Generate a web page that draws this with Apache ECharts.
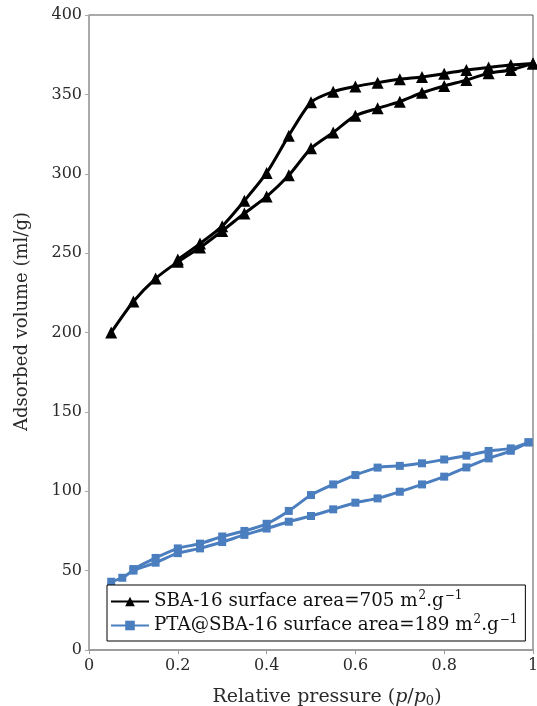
<!DOCTYPE html>
<html><head><meta charset="utf-8">
<script src="https://cdn.jsdelivr.net/npm/echarts@6/dist/echarts.min.js"></script>
<style>html,body{margin:0;padding:0;background:#fff}#c{width:537px;height:706px}</style>
</head><body><div id="c"></div>
<script>
const sbaAdsX = [0.05,0.1,0.15,0.2,0.25,0.3,0.35,0.4,0.45,0.5,0.55,0.6,0.65,0.7,0.75,0.8,0.85,0.9,0.95,1.0];
const sbaAdsY = [200,219.5,234,244.5,253.5,264,275,285.6,299,316,326,336.6,341.2,345.4,351,355.3,359,363.3,365.4,369.5];
const sbaDesX = [1.0,0.95,0.9,0.85,0.8,0.75,0.7,0.65,0.6,0.55,0.5,0.45,0.4,0.35,0.3,0.25,0.2];
const sbaDesY = [369.5,368.5,367,365.4,363,361,359.5,357.4,355,351.7,345,324,300.5,283,267,256,246];
const ptaAdsX = [0.05,0.075,0.1,0.15,0.2,0.25,0.3,0.35,0.4,0.45,0.5,0.55,0.6,0.65,0.7,0.75,0.8,0.85,0.9,0.95,0.99];
const ptaAdsY = [43,45.5,50,55,61,64,68,72.5,76.5,80.8,84.4,88.6,92.8,95.5,99.7,104.3,109.2,115,120.7,125.5,130.8];
const ptaDesX = [0.99,0.95,0.9,0.85,0.8,0.75,0.7,0.65,0.6,0.55,0.5,0.45,0.4,0.35,0.3,0.25,0.2,0.15,0.1];
const ptaDesY = [130.8,127,125.4,122.4,120,117.6,116,114.9,110.2,104.3,97.6,87.6,79.5,75,71.5,67,64,58,51];
const xTicks = [0,0.2,0.4,0.6,0.8,1];
const yTicks = [0,50,100,150,200,250,300,350,400];
const nameSBA = 'SBA-16 surface area=705 m{sup|2}.g{sup|−1}';
const namePTA = 'PTA@SBA-16 surface area=189 m{sup|2}.g{sup|−1}';

const zip = (xs, ys) => xs.map((x, i) => [x, ys[i]]);
const FONT = 'DejaVu Serif';
const TXT = '#2a2a2a';
const black = '#000000', blue = '#4a7ebf';

function mk(name, data, color, symbol, size) {
  return {
    name, type: 'line', data, smooth: 0.25, symbol, symbolSize: size,
    lineStyle: {color, width: 3}, itemStyle: {color}, animation: false
  };
}

const chart = echarts.init(document.getElementById('c'), null, {renderer: 'canvas'});
chart.setOption({
  animation: false,
  backgroundColor: '#fff',
  grid: {left: 89, right: 4, top: 15, bottom: 56, show: true, borderColor: '#555', borderWidth: 1,
         containLabel: false, outerBoundsMode: 'none'},
  xAxis: {
    type: 'value', min: 0, max: 1, interval: 0.2,
    axisLine: {show: true, lineStyle: {color: '#999', width: 1.5}},
    axisTick: {show: true, length: 4, lineStyle: {color: '#999'}},
    splitLine: {show: false},
    axisLabel: {color: TXT, fontFamily: FONT, fontSize: 16, margin: 8,
      formatter: v => {
        const r = +(+v).toFixed(1);
        return xTicks.includes(r) ? String(r) : '';
      }},
    name: 'Relative pressure ({i|p}/{i|p}{sub|0})',
    nameLocation: 'middle', nameGap: 37,
    nameTextStyle: {color: TXT, fontFamily: FONT, fontSize: 19, padding: [0, 0, 0, 32],
      rich: {i: {fontStyle: 'italic', fontFamily: FONT, fontSize: 19, color: TXT},
             sub: {fontSize: 13, fontFamily: FONT, color: TXT, verticalAlign: 'bottom', padding: [8,0,0,0]}}}
  },
  yAxis: {
    type: 'value', min: 0, max: 400, interval: 50,
    axisLine: {show: true, lineStyle: {color: '#aaa', width: 1.5}},
    axisTick: {show: true, length: 4, lineStyle: {color: '#aaa'}},
    splitLine: {show: false},
    axisLabel: {color: TXT, fontFamily: FONT, fontSize: 16, margin: 7,
      formatter: v => (yTicks.includes(+v) ? String(v) : '')},
    name: 'Adsorbed volume (ml/g)', nameLocation: 'middle', nameGap: 58, nameRotate: 90,
    nameTextStyle: {color: TXT, fontFamily: FONT, fontSize: 18, padding: [0, 0, 0, 22]}
  },
  legend: {
    orient: 'vertical', left: 107, top: 585,
    backgroundColor: '#fff', borderColor: '#000', borderWidth: 1,
    padding: [5, 8, 4, 3], itemGap: 1, itemWidth: 38, itemHeight: 12,
    data: [nameSBA, namePTA],
    textStyle: {fontFamily: FONT, fontSize: 18.3, color: '#111', lineHeight: 23,
      rich: {sup: {fontSize: 12, fontFamily: FONT, color: '#111', verticalAlign: 'top', lineHeight: 23, padding: [0,0,8,1]}}}
  },
  series: [
    mk(nameSBA, zip(sbaAdsX, sbaAdsY), black, 'triangle', 12),
    mk(nameSBA, zip(sbaDesX, sbaDesY), black, 'triangle', 12),
    mk(namePTA, zip(ptaAdsX, ptaAdsY), blue, 'rect', 8),
    mk(namePTA, zip(ptaDesX, ptaDesY), blue, 'rect', 8)
  ]
});
</script></body></html>
